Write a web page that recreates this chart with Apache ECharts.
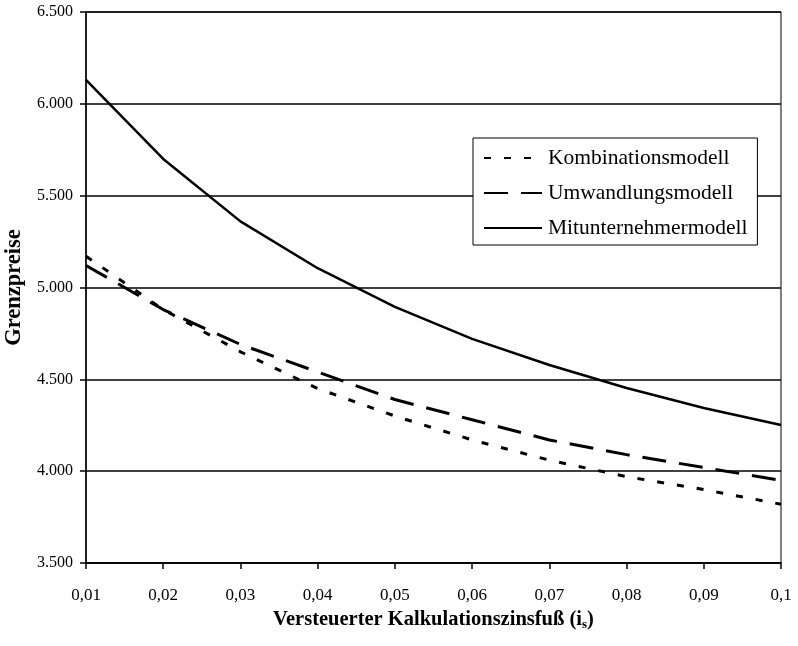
<!DOCTYPE html>
<html><head><meta charset="utf-8">
<script src="https://cdn.jsdelivr.net/npm/echarts@6/dist/echarts.min.js"></script>
<style>html,body{margin:0;padding:0;background:#fff}#c{width:798px;height:646px}</style>
</head><body><div id="c"></div>
<script>
const categories = ['0,01','0,02','0,03','0,04','0,05','0,06','0,07','0,08','0,09','0,1'];
const kombination = [5170, 4880, 4650, 4450, 4300, 4170, 4060, 3970, 3900, 3820];
const umwandlung = [5120, 4880, 4690, 4540, 4390, 4280, 4170, 4090, 4020, 3950];
const mitunternehmer = [6130, 5700, 5360, 5105, 4895, 4720, 4578, 4453, 4344, 4251];
const seriesNames = ['Kombinationsmodell','Umwandlungsmodell','Mitunternehmermodell'];

const chart = echarts.init(document.getElementById('c'), null, {renderer:'canvas'});
const serif = '"Liberation Serif","Times New Roman",serif';
function fmt(v){ return String(v).replace(/(\d)(\d{3})$/, '$1.$2'); }
chart.setOption({
  animation:false,
  backgroundColor:'#fff',
  grid:{left:86,right:17,top:12,bottom:83,show:true,borderColor:'#000',borderWidth:1,
        containLabel:false, outerBoundsMode:'none'},
  legend:{
    orient:'vertical', left:473, top:138, padding:[9,10,6,10],
    borderColor:'#000', borderWidth:1, backgroundColor:'#fff', borderRadius:0,
    itemWidth:58, itemHeight:14, itemGap:13,
    itemStyle:{opacity:0},
    textStyle:{fontFamily:serif,fontSize:21.5,color:'#000',padding:[0,0,0,1]},
    data:seriesNames
  },
  xAxis:{
    type:'category', data:categories, boundaryGap:false,
    axisLine:{lineStyle:{color:'#000',width:1.5}},
    axisTick:{show:true,length:6,lineStyle:{color:'#000',width:1.5}},
    axisLabel:{fontFamily:serif,fontSize:17,color:'#000',margin:24},
    name:'Versteuerter Kalkulationszinsfuß (i{s|s})',
    nameLocation:'middle', nameGap:38,
    nameTextStyle:{fontFamily:serif,fontSize:20.5,fontWeight:'bold',color:'#000',
      rich:{s:{fontFamily:serif,fontSize:13,fontWeight:'bold',color:'#000',verticalAlign:'bottom',padding:[10,0,0,0]}}}
  },
  yAxis:{
    type:'value', min:3500, max:6500, interval:500,
    axisLine:{show:true,lineStyle:{color:'#000',width:1.5}},
    axisTick:{show:true,length:6,lineStyle:{color:'#000',width:1.5}},
    axisLabel:{fontFamily:serif,fontSize:16,color:'#000',margin:13,formatter:fmt},
    splitLine:{lineStyle:{color:'#000',width:1.5}},
    name:'Grenzpreise', nameLocation:'middle', nameGap:57, nameRotate:90,
    nameTextStyle:{fontFamily:serif,fontSize:22.5,fontWeight:'bold',color:'#000'}
  },
  series:[
    {name:seriesNames[0],type:'line',data:kombination,showSymbol:false,symbol:'none',
      lineStyle:{color:'#000',width:3,type:[7,13]},itemStyle:{color:'#000'}},
    {name:seriesNames[1],type:'line',data:umwandlung,showSymbol:false,symbol:'none',
      lineStyle:{color:'#000',width:3,type:[24,13]},itemStyle:{color:'#000'}},
    {name:seriesNames[2],type:'line',data:mitunternehmer,showSymbol:false,symbol:'none',
      lineStyle:{color:'#000',width:2.5,type:'solid'},itemStyle:{color:'#000'}}
  ]
});
</script></body></html>
